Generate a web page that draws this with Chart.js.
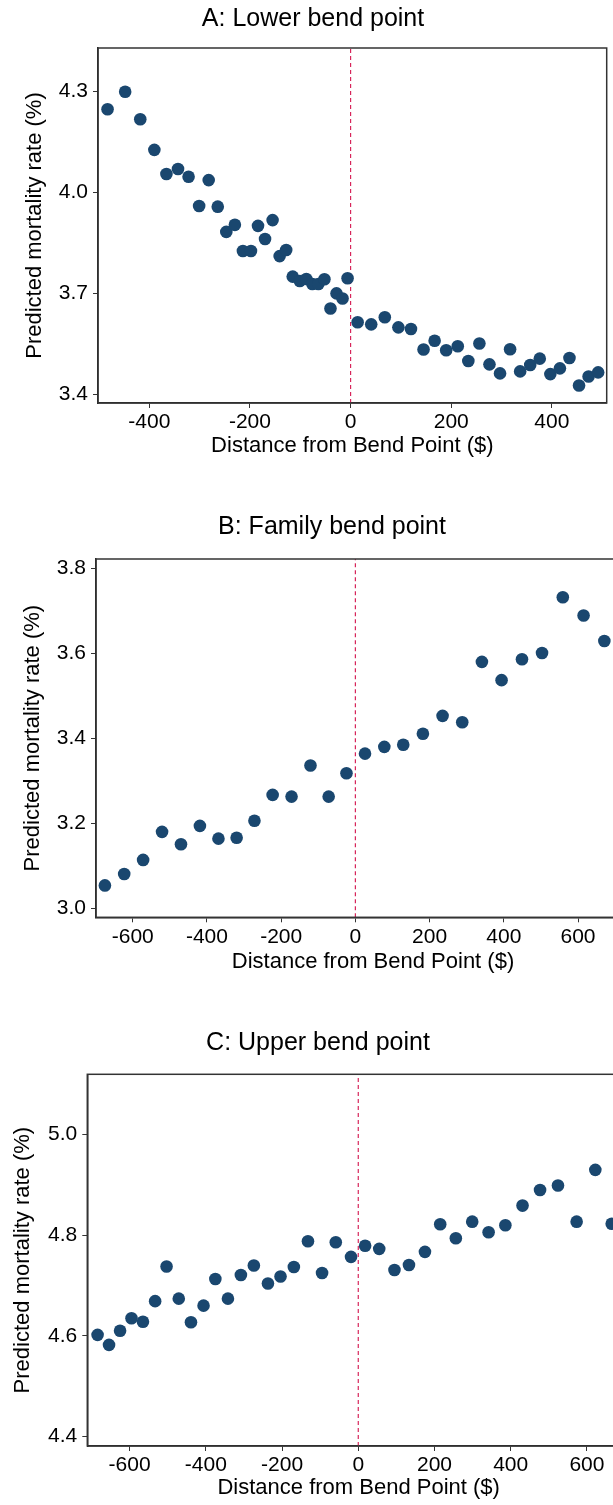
<!DOCTYPE html>
<html>
<head>
<meta charset="utf-8">
<title>Predicted mortality around bend points</title>
<script src="https://cdn.jsdelivr.net/npm/chart.js@4.4.1/dist/chart.umd.min.js"></script>
<style>
  html, body { margin: 0; padding: 0; background: #fff; }
  body { width: 613px; height: 1505px; overflow: hidden; position: relative; }
  .panel { position: absolute; left: 0; }
</style>
</head>
<body>
<div class="panel" style="top:0;width:613px;height:470px"><canvas id="chartA"></canvas></div>
<div class="panel" style="top:508px;width:680px;height:480px"><canvas id="chartB"></canvas></div>
<div class="panel" style="top:1024px;width:680px;height:481px"><canvas id="chartC"></canvas></div>
<script>
// Panel A: lower bend point
const distA = [-483, -448, -418, -390, -366, -343, -322, -301, -282, -264, -247, -230, -214,
  -198, -184, -170, -155, -141, -128, -115, -101, -88, -76, -64, -52, -40, -28, -16, -6,
  14, 41, 68, 95, 120, 145, 167, 190, 213, 234, 256, 276, 297, 317, 337, 357, 376, 397,
  416, 435, 454, 473, 492];
const rateA = [4.248, 4.300, 4.218, 4.127, 4.055, 4.070, 4.047, 3.960, 4.037, 3.958, 3.883, 3.904, 3.826,
  3.826, 3.901, 3.862, 3.918, 3.811, 3.829, 3.750, 3.737, 3.743, 3.728, 3.728, 3.742, 3.655, 3.700, 3.685, 3.745,
  3.614, 3.608, 3.629, 3.599, 3.594, 3.533, 3.559, 3.531, 3.543, 3.499, 3.551, 3.489, 3.462, 3.534, 3.468, 3.487, 3.506, 3.460,
  3.477, 3.508, 3.426, 3.453, 3.465];
const xTicksA = [-400, -200, 0, 200, 400];
const yTicksA = [3.4, 3.7, 4.0, 4.3];

// Panel B: family bend point
const distB = [-675, -623, -572, -521, -470, -419, -369, -320, -272, -223, -172, -121, -72, -24,
  26, 78, 129, 182, 235, 288, 341, 394, 449, 503, 559, 615, 671];
const rateB = [3.054, 3.081, 3.114, 3.180, 3.151, 3.194, 3.164, 3.166, 3.206, 3.267, 3.263, 3.336, 3.263, 3.318,
  3.364, 3.380, 3.385, 3.411, 3.453, 3.438, 3.580, 3.537, 3.586, 3.601, 3.732, 3.689, 3.629];
const xTicksB = [-600, -400, -200, 0, 200, 400, 600];
const yTicksB = [3.0, 3.2, 3.4, 3.6, 3.8];

// Panel C: upper bend point
const distC = [-684, -654, -625, -595, -565, -533, -503, -471, -439, -406, -375, -342, -308, -274,
  -237, -204, -169, -132, -95, -59, -19, 18, 55, 95, 133, 175, 215, 256, 299, 342, 386, 431,
  477, 524, 573, 622, 665];
const rateC = [4.602, 4.582, 4.610, 4.635, 4.628, 4.669, 4.738, 4.674, 4.627, 4.660, 4.713, 4.674, 4.721, 4.740,
  4.704, 4.718, 4.737, 4.788, 4.725, 4.786, 4.757, 4.779, 4.773, 4.731, 4.741, 4.767, 4.822, 4.794, 4.827, 4.806, 4.820, 4.859,
  4.890, 4.899, 4.827, 4.930, 4.823];
const xTicksC = [-600, -400, -200, 0, 200, 400, 600];
const yTicksC = [4.4, 4.6, 4.8, 5.0];

const FONT = "'Liberation Sans', Arial, sans-serif";
const NAVY = '#1a476f';
const RED = '#d7265b';

// box around the plot region
const frame = {
  id: 'frame',
  afterDraw(chart) {
    const { ctx, chartArea: a } = chart;
    ctx.save();
    ctx.strokeStyle = '#333';
    ctx.lineWidth = 1.5;
    ctx.strokeRect(a.left, a.top, a.right - a.left, a.bottom - a.top);
    ctx.restore();
  }
};

function makePanel(id, p) {
  const points = p.xs.map((x, i) => ({ x: x, y: p.ys[i] }));
  return new Chart(document.getElementById(id), {
    type: 'scatter',
    data: {
      datasets: [
        {
          data: points,
          backgroundColor: NAVY,
          borderWidth: 0,
          pointRadius: 6.3,
          order: 0
        },
        {
          // reference line at the bend point
          data: [{ x: 0, y: p.yMin }, { x: 0, y: p.yMax }],
          showLine: true,
          borderColor: RED,
          borderWidth: 1.2,
          borderDash: [4, 3],
          pointRadius: 0,
          order: 1
        }
      ]
    },
    options: {
      responsive: true,
      maintainAspectRatio: false,
      animation: false,
      layout: { padding: { left: p.padLeft, right: p.padRight, top: 0, bottom: 0 } },
      plugins: {
        legend: { display: false },
        tooltip: { enabled: false },
        title: {
          display: true,
          text: p.title,
          color: '#000',
          font: { family: FONT, size: 25, weight: 'normal' },
          padding: { top: p.titleTop, bottom: p.titleBottom }
        }
      },
      scales: {
        x: {
          type: 'linear',
          min: p.xMin,
          max: p.xMax,
          afterBuildTicks: s => { s.ticks = p.xTicks.map(v => ({ value: v })); },
          afterFit: s => { s.height = p.xHeight; },
          ticks: {
            color: '#000',
            font: { family: FONT, size: 21 },
            padding: 2,
            maxRotation: 0,
            autoSkip: false,
            callback: v => String(v)
          },
          grid: { drawOnChartArea: false, tickLength: 5, color: '#333' },
          border: { display: true, color: '#222', width: 1.5 },
          title: {
            display: true,
            text: 'Distance from Bend Point ($)',
            color: '#000',
            font: { family: FONT, size: 22 },
            padding: { top: 0, bottom: p.xTitlePad }
          }
        },
        y: {
          type: 'linear',
          min: p.yMin,
          max: p.yMax,
          afterBuildTicks: s => { s.ticks = p.yTicks.map(v => ({ value: v })); },
          afterFit: s => { s.width = p.yWidth; },
          ticks: {
            color: '#000',
            font: { family: FONT, size: 21 },
            padding: 5,
            autoSkip: false,
            callback: v => v.toFixed(1)
          },
          grid: { drawOnChartArea: false, tickLength: 5, color: '#333' },
          border: { display: true, color: '#222', width: 1.5 },
          title: {
            display: true,
            text: 'Predicted mortality rate (%)',
            color: '#000',
            font: { family: FONT, size: 22 },
            padding: { top: p.yTitlePad, bottom: 0 }
          }
        }
      }
    },
    plugins: [frame]
  });
}

makePanel('chartA', {
  title: 'A: Lower bend point',
  xs: distA, ys: rateA, xTicks: xTicksA, yTicks: yTicksA,
  xMin: -502, xMax: 509, yMin: 3.374, yMax: 4.430,
  padLeft: 16, padRight: 3, yWidth: 82, yTitlePad: 5.8,
  xHeight: 67, xTitlePad: 10.8, titleTop: 4, titleBottom: 14
});

makePanel('chartB', {
  title: 'B: Family bend point',
  xs: distB, ys: rateB, xTicks: xTicksB, yTicks: yTicksB,
  xMin: -699, xMax: 794, yMin: 2.979, yMax: 3.822,
  padLeft: 14, padRight: 30, yWidth: 82, yTitlePad: 5.8,
  xHeight: 70.7, xTitlePad: 12.8, titleTop: 4, titleBottom: 17
});

makePanel('chartC', {
  title: 'C: Upper bend point',
  xs: distC, ys: rateC, xTicks: xTicksC, yTicks: yTicksC,
  xMin: -711, xMax: 713, yMin: 4.381, yMax: 5.120,
  padLeft: 6, padRight: 50, yWidth: 81.3, yTitlePad: 3.8,
  xHeight: 59, xTitlePad: 3.8, titleTop: 4, titleBottom: 16.3
});
</script>
</body>
</html>
